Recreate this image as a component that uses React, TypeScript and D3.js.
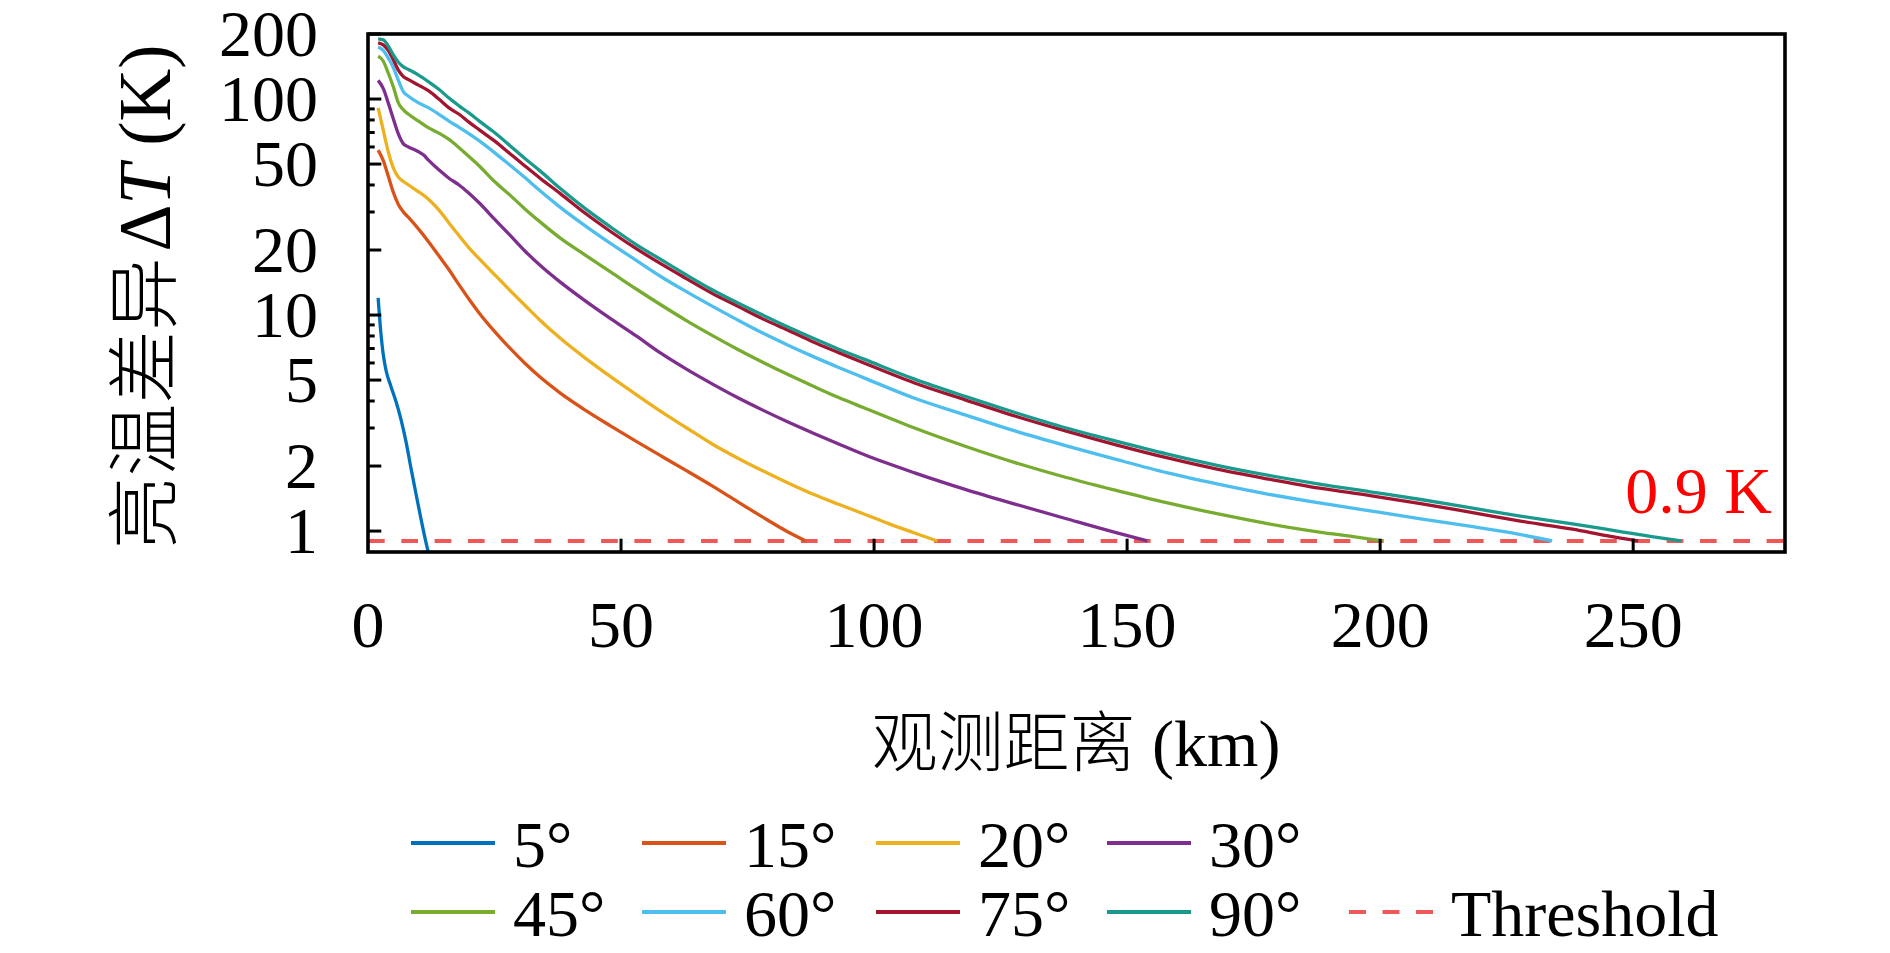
import React, { useEffect } from "react";
import * as d3 from "d3";

type Pt = [number, number];

// distance (km), brightness-temperature difference ΔT (K)
const s5: Pt[] = [[2,12],[2.5,8.5],[3,6.6],[3.6,5.5],[4.5,4.7],[5.5,4.0],[6.5,3.3],[7.5,2.6],[8.5,1.95],[9.5,1.48],[10.5,1.13],[11.3,0.92],[11.9,0.8]];
const s15: Pt[] = [[2,58],[3,52],[4,44],[5,37],[6,32.5],[7,30],[8,28.3],[10,25],[12,21.8],[14,18.8],[16,16.2],[18,13.8],[20,11.8],[22,10.2],[25,8.4],[28,7.04],[31,5.98],[34,5.16],[38,4.35],[43,3.62],[48,3.06],[53,2.6],[58,2.22],[63,1.9],[68,1.62],[73,1.37],[78,1.16],[83,0.99],[86.5,0.9]];
const s20: Pt[] = [[2,91],[3,72],[4,57],[5,48],[6,43.5],[7,41.5],[8,40],[10,37.2],[12,34.3],[14,30.7],[16,26.7],[18,23.3],[20,20.4],[22,18.2],[25,15.4],[28,13.05],[31,11.1],[34,9.46],[38,7.8],[43,6.3],[48,5.17],[53,4.28],[58,3.56],[63,3.0],[68,2.53],[73,2.18],[78,1.9],[83,1.67],[88,1.48],[93,1.33],[98,1.2],[103,1.08],[108,0.98],[112.5,0.9]];
const s30: Pt[] = [[2,122],[3,112],[4,96],[5,81],[6,69],[7,62],[8,60],[9,58.5],[10,57],[11,55],[12,52],[14,47],[16,43],[18,40],[20,36.5],[22,33],[25,27.8],[28,23.5],[31,19.8],[34,17],[38,14.2],[43,11.6],[48,9.6],[53,8.0],[58,6.62],[63,5.6],[68,4.8],[73,4.15],[78,3.63],[83,3.2],[88,2.84],[93,2.53],[98,2.26],[108,1.86],[118,1.56],[128,1.33],[138,1.14],[148,0.98],[154,0.9]];
const s45: Pt[] = [[2,158],[3,150],[4,132],[5,114],[6,96],[7,89],[8,85],[10,79],[12,73.5],[14,69.5],[16,65],[18,59.5],[20,54],[22,49],[25,41.5],[28,36],[31,31],[34,27],[38,22.7],[43,18.9],[48,15.8],[53,13.2],[58,11.1],[63,9.4],[68,8.05],[73,6.95],[78,6.05],[83,5.3],[88,4.68],[93,4.15],[98,3.72],[108,3.0],[118,2.47],[128,2.07],[138,1.77],[148,1.54],[158,1.35],[168,1.2],[178,1.08],[188,0.99],[195,0.94],[200.5,0.9]];
const s60: Pt[] = [[2,174],[3,168],[4,155],[5,140],[6,122],[7,108],[8,103],[10,96],[12,91],[14,85],[16,79],[18,74],[20,69],[22,64],[25,56.5],[28,49.5],[31,43.3],[34,37.6],[38,31.5],[43,25.8],[48,21.4],[53,17.9],[58,15],[63,12.8],[68,11],[73,9.5],[78,8.25],[83,7.25],[88,6.42],[93,5.72],[98,5.12],[108,4.12],[118,3.45],[128,2.9],[138,2.48],[148,2.14],[158,1.86],[168,1.65],[178,1.48],[188,1.35],[198,1.24],[208,1.14],[218,1.05],[226,0.98],[234,0.9]];
const s75: Pt[] = [[2,182],[3,178],[4,168],[5,152],[6,136],[7,127],[8,123],[10,116],[12,109],[14,100],[16,91],[18,85],[20,78],[22,72],[25,64],[28,56],[31,49],[34,43],[38,36.5],[43,29.5],[48,24.3],[53,20.3],[58,17.2],[63,14.7],[68,12.6],[73,11],[78,9.6],[83,8.5],[88,7.5],[93,6.7],[98,6.0],[108,4.85],[118,4.05],[128,3.4],[138,2.9],[148,2.5],[158,2.18],[168,1.93],[178,1.74],[188,1.58],[198,1.46],[208,1.34],[218,1.22],[228,1.11],[238,1.02],[245,0.95],[251,0.9]];
const s90: Pt[] = [[2,190],[3,188],[4,176],[5,160],[6,148],[7,141],[8,137],[10,129],[12,120],[14,111],[16,101],[18,93],[20,86],[22,79],[25,70],[28,61],[31,53],[34,46.5],[38,38.5],[43,31],[48,25.5],[53,21.2],[58,18],[63,15.3],[68,13.1],[73,11.4],[78,10],[83,8.8],[88,7.8],[93,6.95],[98,6.25],[108,5.05],[118,4.2],[128,3.53],[138,3.0],[148,2.6],[158,2.27],[168,2.01],[178,1.81],[188,1.65],[198,1.52],[208,1.4],[218,1.28],[228,1.17],[238,1.08],[248,0.99],[254,0.94],[259.5,0.9]];

const seriesLabels = ["5°", "15°", "20°", "30°", "45°", "60°", "75°", "90°"];
const seriesData = [s5, s15, s20, s30, s45, s60, s75, s90];
const seriesColors = ["#0072BD", "#D95319", "#EDB120", "#7E2F8E", "#77AC30", "#4DBEEE", "#A2142F", "#1A9A8C"];

const threshold = 0.9;
const thresholdText = "0.9 K";
const xTicks = [0, 50, 100, 150, 200, 250];
const yMajorTicks = [1, 2, 5, 10, 20, 50, 100, 200];
const yMinorTicks = [3, 4, 6, 7, 8, 9, 30, 40, 60, 70, 80, 90];

const W = 1890, H = 953;
const M = { left: 368, right: 1785, top: 34, bottom: 552 };
const serif = "'Liberation Serif', 'Noto Sans CJK SC', serif";
const cjk = "'Noto Sans CJK SC', sans-serif";

export default function App() {
  useEffect(() => {
    document.body.style.margin = "0";
  }, []);

  const x = d3.scaleLinear().domain([0, 280]).range([M.left, M.right]);
  const y = d3.scaleLog().domain([0.8, 200]).range([M.bottom, M.top]);
  const line = d3
    .line<Pt>()
    .x((d) => x(d[0]))
    .y((d) => y(d[1]))
    .curve(d3.curveMonotoneX);

  const thrColor = "#F05858";
  const fs = 66;

  // legend layout
  const legRowY = [843, 912];
  const legColX = [411, 642, 876, 1107];
  const legLine = 84;

  return (
    <svg width={W} height={H} style={{ position: "absolute", left: 0, top: 0, background: "#fff" }}>
      <rect x={0} y={0} width={W} height={H} fill="#fff" />
      <defs>
        <clipPath id="plot">
          <rect x={M.left} y={M.top} width={M.right - M.left} height={M.bottom - M.top} />
        </clipPath>
      </defs>

      {/* threshold */}
      <line
        x1={x(0)}
        x2={x(280)}
        y1={y(threshold)}
        y2={y(threshold)}
        stroke={thrColor}
        strokeWidth={4}
        strokeDasharray="16.7 16.6"
      />

      {/* curves */}
      <g clipPath="url(#plot)">
        {seriesData.map((s, i) => (
          <path key={i} d={line(s) || ""} fill="none" stroke={seriesColors[i]} strokeWidth={3.3} strokeLinejoin="round" />
        ))}
      </g>

      {/* threshold label */}
      <text x={1772} y={513} textAnchor="end" fontFamily={serif} fontSize={fs} fill="#FF0000">
        {thresholdText}
      </text>

      {/* ticks */}
      {xTicks.slice(1).map((t) => (
        <line key={"xt" + t} x1={x(t)} x2={x(t)} y1={M.bottom} y2={M.bottom - 13.3} stroke="#000" strokeWidth={3} />
      ))}
      {yMajorTicks.map((t) => (
        <line key={"yt" + t} x1={M.left} x2={M.left + 13.3} y1={y(t)} y2={y(t)} stroke="#000" strokeWidth={3} />
      ))}
      {yMinorTicks.map((t) => (
        <line key={"ym" + t} x1={M.left} x2={M.left + 6.7} y1={y(t)} y2={y(t)} stroke="#000" strokeWidth={3} />
      ))}

      {/* box */}
      <rect
        x={M.left}
        y={M.top}
        width={M.right - M.left}
        height={M.bottom - M.top}
        fill="none"
        stroke="#000"
        strokeWidth={3.6}
      />

      {/* tick labels */}
      {xTicks.map((t) => (
        <text key={"xl" + t} x={x(t)} y={647} textAnchor="middle" fontFamily={serif} fontSize={fs} fill="#000">
          {t}
        </text>
      ))}
      {yMajorTicks.map((t) => (
        <text key={"yl" + t} x={318} y={y(t)} dy="0.33em" textAnchor="end" fontFamily={serif} fontSize={fs} fill="#000">
          {t}
        </text>
      ))}

      {/* axis labels */}
      <text x={1076} y={766} textAnchor="middle" fontSize={66} fill="#000" fontFamily={serif}>
        <tspan fontFamily={cjk} fontWeight={300}>观测距离</tspan>
        <tspan> (km)</tspan>
      </text>
      <text
        transform="translate(170,297) rotate(-90)"
        textAnchor="middle"
        fontSize={73}
        fill="#000"
        fontFamily={serif}
      >
        <tspan fontFamily={cjk} fontWeight={300}>亮温差异</tspan>
        <tspan dx={6}>Δ</tspan>
        <tspan fontStyle="italic">T</tspan>
        <tspan> (K)</tspan>
      </text>

      {/* legend */}
      {seriesLabels.map((lab, i) => {
        const row = Math.floor(i / 4);
        const col = i % 4;
        const lx = legColX[col];
        const ly = legRowY[row];
        return (
          <g key={"lg" + i}>
            <line x1={lx} x2={lx + legLine} y1={ly} y2={ly} stroke={seriesColors[i]} strokeWidth={4} />
            <text x={lx + legLine + 18} y={ly + 23.5} fontFamily={serif} fontSize={fs} fill="#000">
              {lab}
            </text>
          </g>
        );
      })}
      <g>
        <line
          x1={1349}
          x2={1349 + legLine}
          y1={legRowY[1]}
          y2={legRowY[1]}
          stroke={thrColor}
          strokeWidth={4}
          strokeDasharray="17 16.5"
        />
        <text x={1349 + legLine + 18} y={legRowY[1] + 23.5} fontFamily={serif} fontSize={fs} fill="#000">
          Threshold
        </text>
      </g>
    </svg>
  );
}
